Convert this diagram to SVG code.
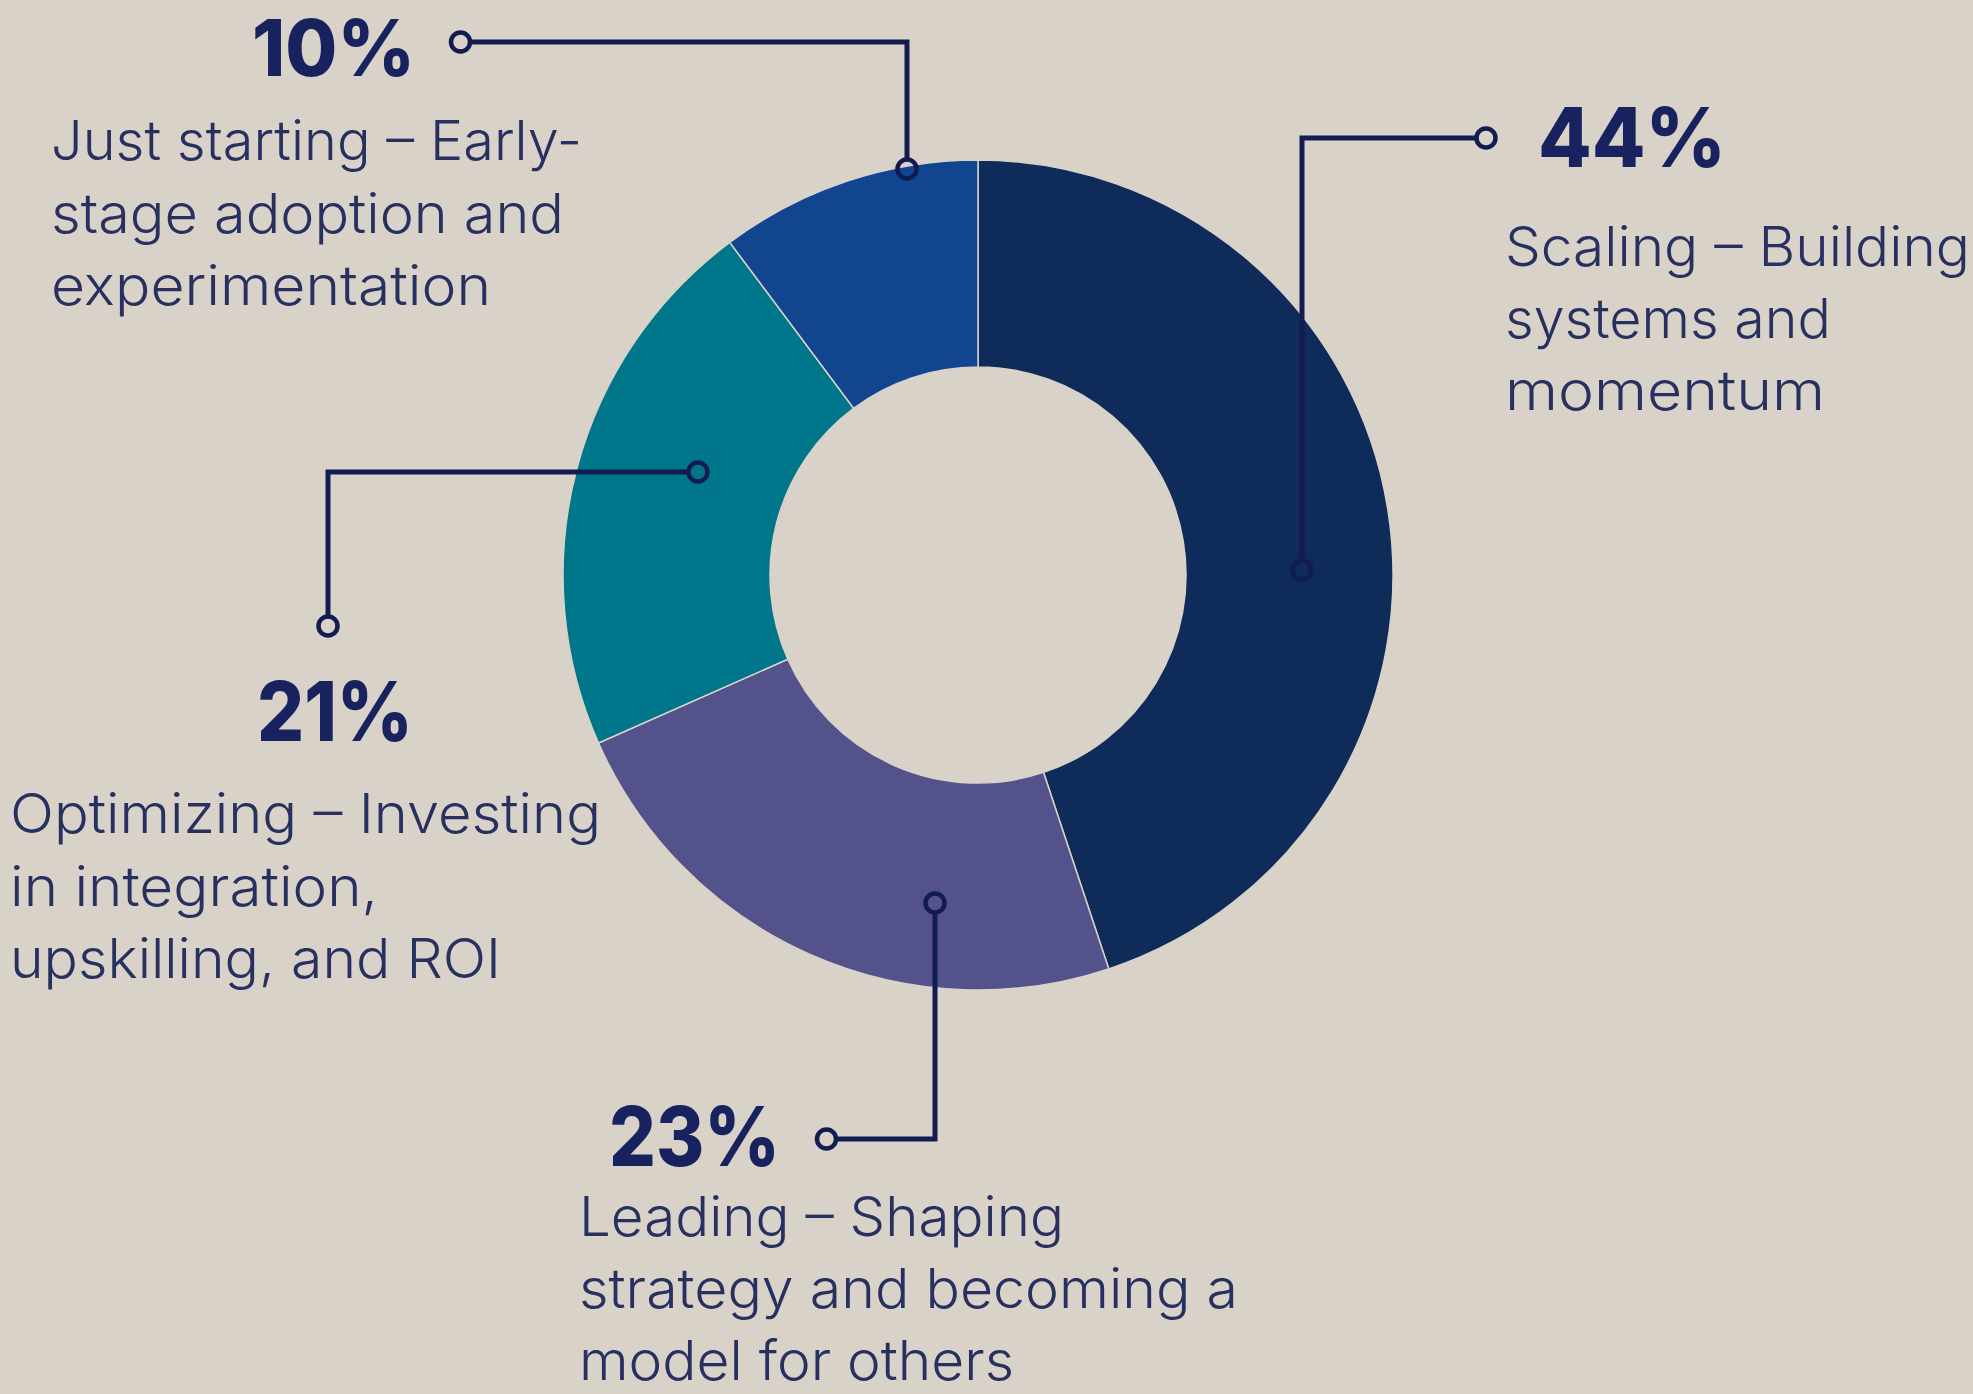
<svg xmlns="http://www.w3.org/2000/svg" width="1973" height="1394" viewBox="0 0 1973 1394">
<style>
.pct{font-family:Inter,"Open Sans","Liberation Sans",sans-serif;font-weight:800;font-size:82px;fill:#18225e}
.desc{font-family:Inter,"Open Sans","Liberation Sans",sans-serif;font-weight:300;font-size:55px;fill:#283060}
.seg{stroke:#d9d2c9;stroke-width:1.5}
.conn{fill:none;stroke:#131c50;stroke-width:5;stroke-linejoin:miter}
.dot{fill:none;stroke:#131c50;stroke-width:4.5}
</style>
<rect width="1973" height="1394" fill="#d9d2c9"/>
<g id="donut">
<g id="seg-scaling"><path class="seg" fill="#0e2b59" d="M978,160 A415,415 0 0 1 1108.77,968.87 L1043.54,772.41 A208,208 0 0 0 978,367 Z"/></g>
<g id="seg-leading"><path class="seg" fill="#53528b" d="M1108.77,968.87 A415,415 0 0 1 598.52,742.99 L787.80,659.20 A208,208 0 0 0 1043.54,772.41 Z"/></g>
<g id="seg-optimizing"><path class="seg" fill="#00768a" d="M598.52,742.99 A415,415 0 0 1 729.78,242.41 L853.59,408.31 A208,208 0 0 0 787.80,659.20 Z"/></g>
<g id="seg-starting"><path class="seg" fill="#11458f" d="M729.78,242.41 A415,415 0 0 1 978,160 L978,367 A208,208 0 0 0 853.59,408.31 Z"/></g>
</g>
<g id="connectors">
<path class="conn" d="M470,42 H907 V160"/>
<circle class="dot" cx="460.5" cy="42" r="9.5"/>
<circle class="dot" cx="907" cy="169" r="9.5"/>
<path class="conn" d="M1476,138 H1302 V561"/>
<circle class="dot" cx="1486" cy="138" r="9.5"/>
<circle class="dot" cx="1302" cy="570" r="9.5"/>
<path class="conn" d="M688,472 H328 V617"/>
<circle class="dot" cx="698" cy="472" r="9.5"/>
<circle class="dot" cx="328" cy="626" r="9.5"/>
<path class="conn" d="M935,912 V1139 H836"/>
<circle class="dot" cx="935" cy="903" r="9.5"/>
<circle class="dot" cx="826.5" cy="1139" r="9.5"/>
</g>
<g id="label-starting">
<text class="pct" x="252" y="76" font-size="78" textLength="163" lengthAdjust="spacingAndGlyphs" style="font-size:78px">10%</text>
<text class="desc" x="51" y="160" textLength="531" lengthAdjust="spacingAndGlyphs">Just starting – Early-</text>
<text class="desc" x="51" y="233" textLength="513" lengthAdjust="spacingAndGlyphs">stage adoption and</text>
<text class="desc" x="51" y="305" textLength="440" lengthAdjust="spacingAndGlyphs">experimentation</text>
</g>
<g id="label-scaling">
<text class="pct" x="1538" y="167" textLength="188" lengthAdjust="spacingAndGlyphs">44%</text>
<text class="desc" x="1505" y="266" textLength="465" lengthAdjust="spacingAndGlyphs">Scaling – Building</text>
<text class="desc" x="1505" y="338" textLength="326" lengthAdjust="spacingAndGlyphs">systems and</text>
<text class="desc" x="1505" y="410" textLength="320" lengthAdjust="spacingAndGlyphs">momentum</text>
</g>
<g id="label-optimizing">
<text class="pct" x="257" y="741" textLength="156" lengthAdjust="spacingAndGlyphs">21%</text>
<text class="desc" x="10" y="833" textLength="591" lengthAdjust="spacingAndGlyphs">Optimizing – Investing</text>
<text class="desc" x="10" y="906" textLength="368" lengthAdjust="spacingAndGlyphs">in integration,</text>
<text class="desc" x="10" y="978" textLength="491" lengthAdjust="spacingAndGlyphs">upskilling, and ROI</text>
</g>
<g id="label-leading">
<text class="pct" x="609" y="1166" textLength="171" lengthAdjust="spacingAndGlyphs">23%</text>
<text class="desc" x="579" y="1236" textLength="485" lengthAdjust="spacingAndGlyphs">Leading – Shaping</text>
<text class="desc" x="579" y="1308" textLength="659" lengthAdjust="spacingAndGlyphs">strategy and becoming a</text>
<text class="desc" x="579" y="1380" textLength="435" lengthAdjust="spacingAndGlyphs">model for others</text>
</g>
</svg>
